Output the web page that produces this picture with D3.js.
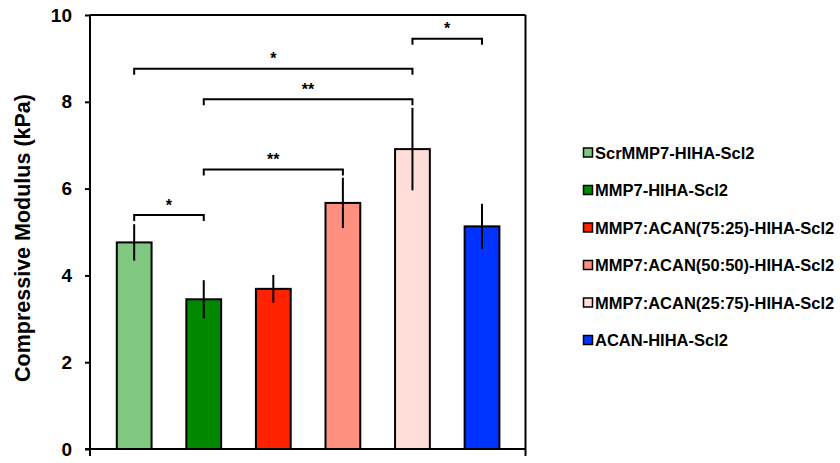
<!DOCTYPE html>
<html><head><meta charset="utf-8">
<script src="https://cdn.jsdelivr.net/npm/d3@7"></script>
<style>body{margin:0;background:#fff}svg{display:block}text{font-family:"Liberation Sans",Arial,sans-serif;font-weight:bold}</style>
</head><body><svg id="c" width="840" height="463"></svg>
<script>
const categories = ["ScrMMP7-HIHA-Scl2","MMP7-HIHA-Scl2","MMP7:ACAN(75:25)-HIHA-Scl2","MMP7:ACAN(50:50)-HIHA-Scl2","MMP7:ACAN(25:75)-HIHA-Scl2","ACAN-HIHA-Scl2"];
const values = [4.76, 3.45, 3.69, 5.67, 6.91, 5.13];
const errors = [0.42, 0.44, 0.32, 0.58, 0.95, 0.52];
const colors = ["#80C880","#008800","#FF2200","#FF9080","#FFDDD8","#0033FF"];
const yTicks = [0,2,4,6,8,10];
const yLabel = "Compressive Modulus (kPa)";
// significance brackets
const sigFrom = [0, 1, 1, 0, 4];
const sigTo = [1, 3, 4, 4, 5];
const sigLevel = [5.39, 6.44, 8.06, 8.76, 9.45];
const sigLabel = ["*", "**", "**", "*", "*"];

const svg = d3.select("#c");
const L = 90, R = 525.5, T = 15, B = 449;
const y = d3.scaleLinear().domain([0,10]).range([B,T]);
const x = d3.scaleBand().domain(d3.range(categories.length)).range([99.4, 516.8]).paddingInner(0.5).paddingOuter(0.25);

// frame top & right
svg.append("line").attr("x1",L).attr("x2",R).attr("y1",T).attr("y2",T).attr("stroke","#000").attr("stroke-width",2);
svg.append("line").attr("x1",R).attr("x2",R).attr("y1",T).attr("y2",B+7).attr("stroke","#000").attr("stroke-width",2);

// bars
svg.selectAll("rect.bar").data(values).join("rect").attr("class","bar")
  .attr("x",(d,i)=>x(i)).attr("width",x.bandwidth())
  .attr("y",d=>y(d)).attr("height",d=>B-y(d))
  .attr("fill",(d,i)=>colors[i]).attr("stroke","#000").attr("stroke-width",2);

// error bars
svg.selectAll("line.err").data(values).join("line").attr("class","err")
  .attr("x1",(d,i)=>x(i)+x.bandwidth()/2).attr("x2",(d,i)=>x(i)+x.bandwidth()/2)
  .attr("y1",(d,i)=>y(d+errors[i])).attr("y2",(d,i)=>y(d-errors[i]))
  .attr("stroke","#000").attr("stroke-width",2);

// y axis
const ya = svg.append("g").attr("transform",`translate(${L},0)`)
  .call(d3.axisLeft(y).tickValues(yTicks).tickSize(5).tickPadding(13).tickSizeOuter(0));
ya.select(".domain").attr("stroke-width",2).attr("d",`M0,${T}V${B+7}`);
ya.selectAll(".tick line").attr("stroke-width",2);
ya.selectAll("text").style("font-size","19px").style("font-weight","bold").attr("fill","#000")
  .style("font-family","'Liberation Sans',Arial,sans-serif");

// x axis line
svg.append("line").attr("x1",L-5).attr("x2",R).attr("y1",B).attr("y2",B).attr("stroke","#000").attr("stroke-width",2);

// y label
svg.append("text").attr("transform",`translate(24,${238}) rotate(-90)`)
  .attr("text-anchor","middle").attr("dominant-baseline","middle").style("font-size","21.5px").text(yLabel);

// significance brackets
sigFrom.forEach((f,k)=>{
  const x1 = x(f)+x.bandwidth()/2, x2 = x(sigTo[k])+x.bandwidth()/2, yy = y(sigLevel[k]);
  svg.append("path").attr("d",`M${x1},${yy+6}V${yy}H${x2}V${yy+6}`)
    .attr("fill","none").attr("stroke","#000").attr("stroke-width",2);
  svg.append("text").attr("x",(x1+x2)/2).attr("y",yy-4.5).attr("text-anchor","middle")
    .style("font-size","16px").text(sigLabel[k]);
});

// legend
const ly = d3.scalePoint().domain(d3.range(categories.length)).range([152.5,340]);
categories.forEach((c,i)=>{
  svg.append("rect").attr("x",583.5).attr("y",ly(i)-4.5).attr("width",9).attr("height",9)
    .attr("fill",colors[i]).attr("stroke","#000").attr("stroke-width",1.5);
  svg.append("text").attr("x",595).attr("y",ly(i)+6).style("font-size","16.5px").text(c);
});
</script></body></html>
